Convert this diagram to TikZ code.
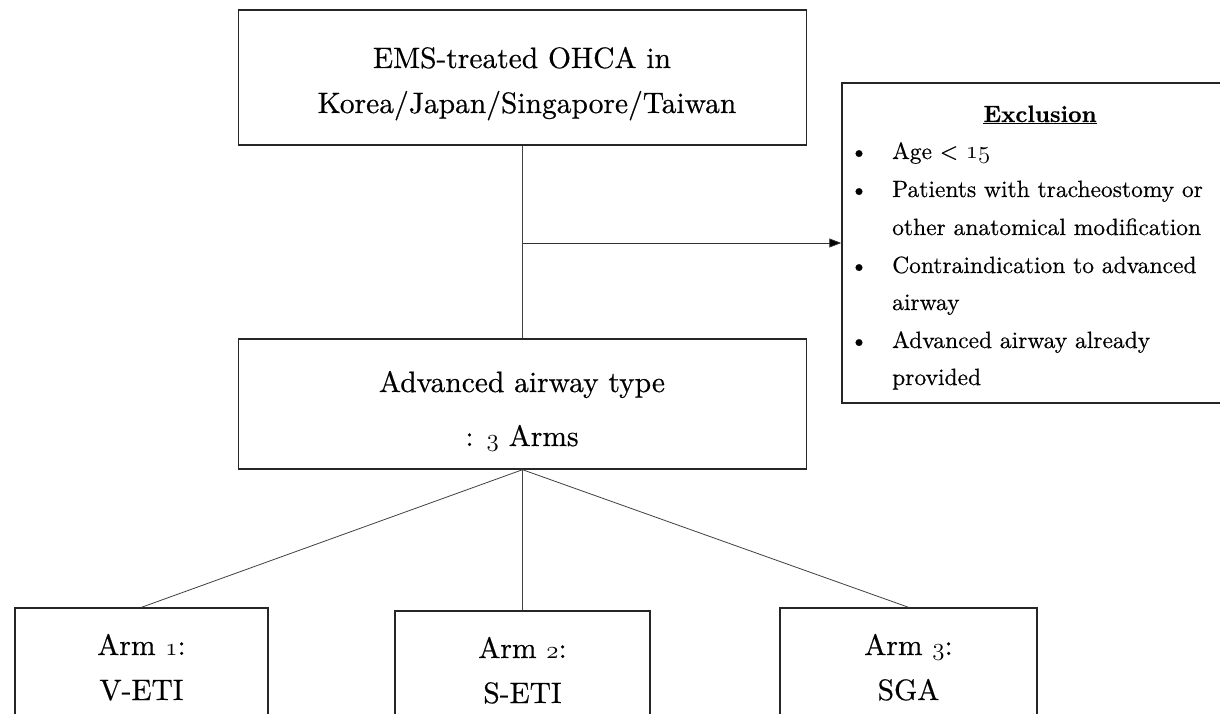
\documentclass[tikz,border=0pt]{standalone}
\usepackage{fontspec}
\setmainfont{lmroman10-regular.otf}[BoldFont=lmroman10-bold.otf, FakeBold=0.5]
\usetikzlibrary{arrows.meta}
\makeatletter
\newcommand\osn[1]{{\usefont{OML}{cmm}{m}{it}\fontsize{\fpeval{1.2*\f@size}}{0}\selectfont #1}}
\makeatother
\begin{document}
\begin{tikzpicture}[x=1pt,y=-1pt,
  box/.style={draw=black!85, line width=1.4pt, rectangle, inner sep=0pt},
  link/.style={draw=black!75, line width=0.8pt},
  lbl/.style={anchor=base, inner sep=0pt, font=\fontsize{29.5}{35}\selectfont},
  exl/.style={anchor=base west, inner sep=0pt, font=\fontsize{23.5}{28}\selectfont},
  exb/.style={anchor=base, inner sep=0pt, font=\fontsize{23.5}{28}\selectfont}]
\useasboundingbox (0,0) rectangle (1220,714);
\clip (0,0) rectangle (1220,714);
\fill[white] (0,0) rectangle (1220,714);
% top box
\node[box, minimum width=568pt, minimum height=135pt] (top) at (522.5,77.5) {};
\node[lbl] (top1) at (522,68) {EMS-treated OHCA in};
\node[lbl] (top2) at (527,113) {Korea/Japan/Singapore/Taiwan};
% middle box
\node[box, minimum width=568pt, minimum height=130pt] (mid) at (522.5,404) {};
\node[lbl] (mid1) at (522,392) {Advanced airway type};
\node[lbl] (mid2) at (522,446) {: \osn{3} Arms};
% exclusion box
\node[box, minimum width=396pt, minimum height=320pt] (excl) at (1040,243) {};
\node[exb, font=\bfseries\fontsize{23.5}{28}\selectfont] (ext) at (1040,122) {\underline{Exclusion}};
\node[exb] (eb1) at (859,159) {\textbullet};
\node[exl] (ex1) at (892,159) {Age < \osn{15}};
\node[exb] (eb2) at (859,197) {\textbullet};
\node[exl] (ex2) at (892,197) {Patients with tracheostomy or};
\node[exl] (ex3) at (892,235) {other anatomical modification};
\node[exb] (eb3) at (859,273) {\textbullet};
\node[exl] (ex4) at (892,273) {Contraindication to advanced};
\node[exl] (ex5) at (892,310) {airway};
\node[exb] (eb4) at (859,348) {\textbullet};
\node[exl] (ex6) at (892,348) {Advanced airway already};
\node[exl] (ex7) at (892,385) {provided};
% bottom boxes
\node[box, minimum width=253pt, minimum height=116pt] (b1) at (141.5,666) {};
\node[lbl] (b1a) at (141.5,655) {Arm \osn{1}:};
\node[lbl] (b1b) at (141.5,700) {V-ETI};
\node[box, minimum width=255pt, minimum height=116pt] (b2) at (522.5,669) {};
\node[lbl] (b2a) at (522.5,658) {Arm \osn{2}:};
\node[lbl] (b2b) at (522.5,703) {S-ETI};
\node[box, minimum width=257pt, minimum height=116pt] (b3) at (908.5,666) {};
\node[lbl] (b3a) at (908.5,655) {Arm \osn{3}:};
\node[lbl] (b3b) at (908.5,700) {SGA};
% connectors
\draw[link] (top.south) -- (mid.north);
\coordinate (split) at (top.south |- excl.west);
\draw[link, -{Triangle[length=12pt,width=9pt,fill=black]}, draw=black!80] (split) -- (excl.west);
\draw[link] (mid.south) -- (b1.north);
\draw[link] (mid.south) -- (b2.north);
\draw[link] (mid.south) -- (b3.north);
\end{tikzpicture}
\end{document}
